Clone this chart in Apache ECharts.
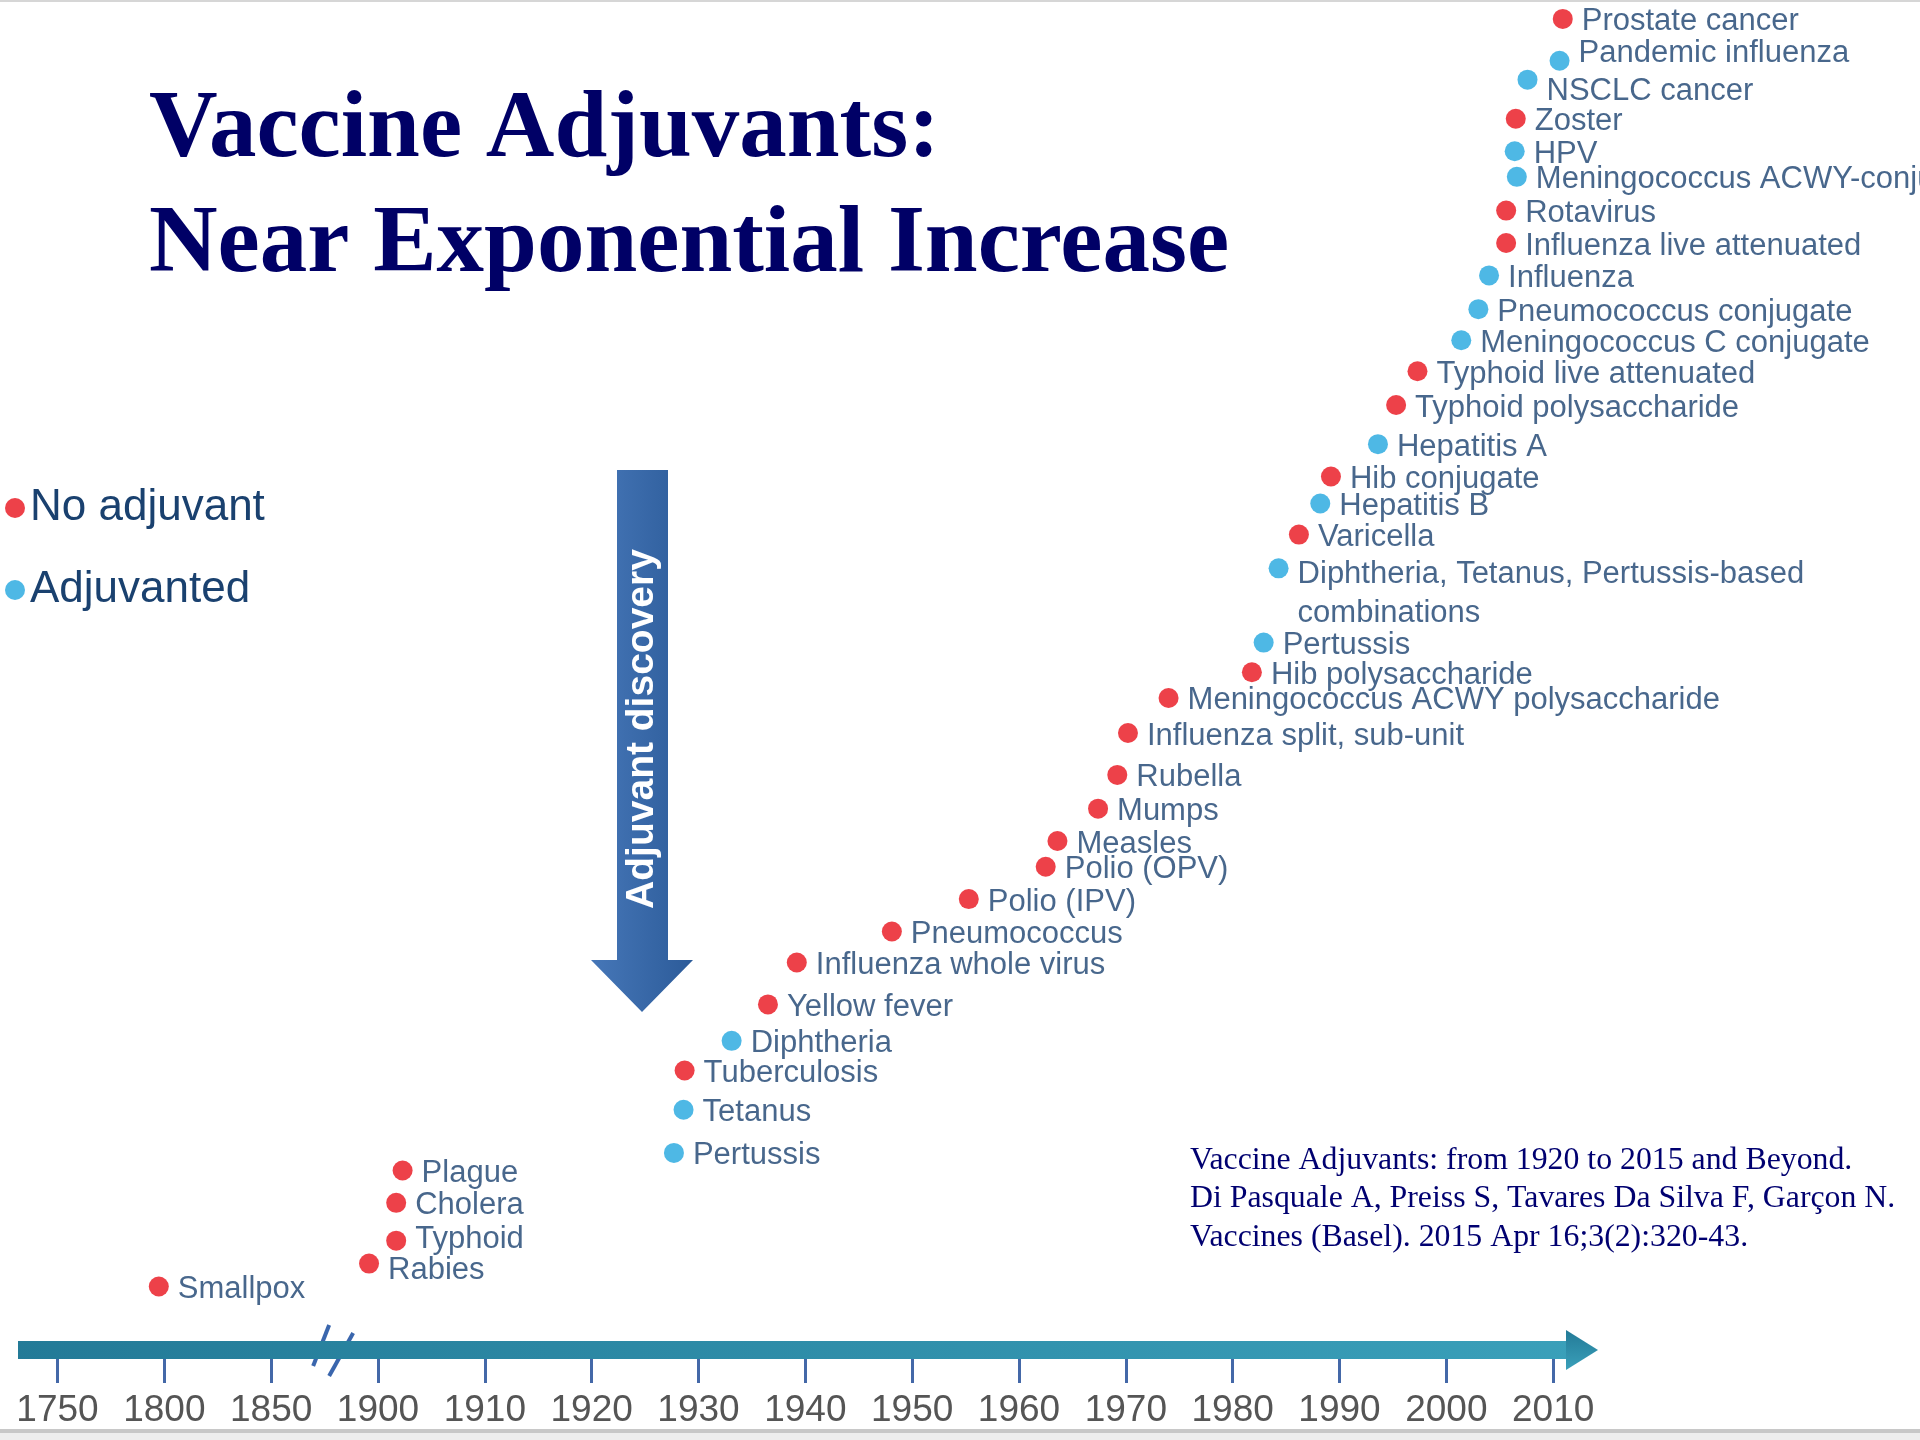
<!DOCTYPE html>
<html>
<head>
<meta charset="utf-8">
<title>Vaccine Adjuvants: Near Exponential Increase</title>
<script src="https://cdn.jsdelivr.net/npm/echarts@6/dist/echarts.min.js"></script>
<style>
  html, body { margin: 0; padding: 0; background: #fff; }
  #chart { width: 1920px; height: 1440px; }
</style>
</head>
<body>
<div id="chart"></div>
<script>
// time axis is broken: 50 year steps up to 1900, then decades
var tickLabels = ['1750', '1800', '1850', '1900', '1910', '1920', '1930', '1940', '1950',
                  '1960', '1970', '1980', '1990', '2000', '2010'];

var vaccineNames = ['Smallpox', 'Rabies', 'Typhoid', 'Cholera', 'Plague', 'Pertussis', 'Tetanus',
  'Tuberculosis', 'Diphtheria', 'Yellow fever', 'Influenza whole virus', 'Pneumococcus',
  'Polio (IPV)', 'Polio (OPV)', 'Measles', 'Mumps', 'Rubella', 'Influenza split, sub-unit',
  'Meningococcus ACWY polysaccharide', 'Hib polysaccharide', 'Pertussis',
  'Diphtheria, Tetanus, Pertussis-based\ncombinations', 'Varicella', 'Hepatitis B',
  'Hib conjugate', 'Hepatitis A', 'Typhoid polysaccharide', 'Typhoid live attenuated',
  'Meningococcus C conjugate', 'Pneumococcus conjugate', 'Influenza', 'Influenza live attenuated',
  'Rotavirus', 'Meningococcus ACWY-conjugate', 'HPV', 'Zoster', 'NSCLC cancer',
  'Pandemic influenza', 'Prostate cancer'];

var vaccineYears = [1797.4, 1895.8, 1901.7, 1901.7, 1902.3, 1927.7, 1928.6, 1928.7, 1933.1, 1936.5,
  1939.2, 1948.1, 1955.3, 1962.5, 1963.6, 1967.4, 1969.2, 1970.2, 1974.0, 1981.8, 1982.9, 1984.3,
  1986.2, 1988.2, 1989.2, 1993.6, 1995.3, 1997.3, 2001.4, 2003.0, 2004.0, 2005.6, 2005.6, 2006.6,
  2006.4, 2006.5, 2007.6, 2010.6, 2010.9];

// vertical stacking level (0 = time axis, 100 = top of the picture)
var vaccineLevels = [4.7, 6.4, 8.1, 10.9, 13.3, 14.6, 17.8, 20.7, 22.9, 25.6, 28.7, 31.0, 33.4, 35.8,
  37.7, 40.1, 42.6, 45.7, 48.3, 50.2, 52.4, 57.9, 60.4, 62.7, 64.7, 67.1, 70.0, 72.5, 74.8, 77.1,
  79.6, 82.0, 84.4, 86.9, 88.8, 91.2, 94.1, 95.5, 98.6];

// 1 = adjuvanted vaccine, 0 = no adjuvant
var adjuvanted = [0, 0, 0, 0, 0, 1, 1, 0, 1, 0, 0, 0, 0, 0, 0, 0, 0, 0, 0, 0, 1, 1, 0, 1, 0, 1, 0, 0,
  1, 1, 1, 0, 0, 1, 1, 0, 1, 1, 0];

var breakYear = 1879;   // where the "//" sits on the axis

// a few labels sit higher/lower than their dot in the original
var labelNudge = { 'Rabies': 7, 'Typhoid': -1, 'NSCLC cancer': 12, 'Pandemic influenza': -7 };

var textBlue = '#1a416f';
var sans = 'Liberation Sans, Arial, sans-serif';

function yearToPos(y) {
  return y < 1900 ? (y - 1750) / 50 : 3 + (y - 1900) / 10;
}

var noAdjData = [], adjData = [];
for (var i = 0; i < vaccineNames.length; i++) {
  var n = vaccineNames[i];
  var item = {
    name: n,
    value: [yearToPos(vaccineYears[i]), vaccineLevels[i]]
  };
  if (n.indexOf('\n') >= 0) {
    item.label = { verticalAlign: 'top', offset: [0, -13] };
  } else if (labelNudge[n] !== undefined) {
    item.label = { offset: [0, labelNudge[n]] };
  }
  if (adjuvanted[i]) adjData.push(item); else noAdjData.push(item);
}

var tickPos = tickLabels.map(function (t, i) { return i; });
var xMin = -0.37, xMax = 14.27;

var pointLabel = {
  show: true,
  position: 'right',
  distance: 9,
  offset: [0, 3],
  formatter: '{b}',
  fontFamily: sans,
  fontSize: 31,
  lineHeight: 39,
  color: textBlue
};

var chart = echarts.init(document.getElementById('chart'));

var option = {
  backgroundColor: '#fff',
  animation: false,
  title: [
    {
      text: 'Vaccine Adjuvants:\nNear Exponential Increase',
      left: 149, top: 74, padding: 0,
      textStyle: {
        fontFamily: 'Liberation Serif, Times New Roman, serif',
        fontWeight: 'bold', fontSize: 95, lineHeight: 115, color: '#000066'
      }
    },
    {
      text: 'Vaccine Adjuvants: from 1920 to 2015 and Beyond.\n' +
            'Di Pasquale A, Preiss S, Tavares Da Silva F, Garçon N.\n' +
            'Vaccines (Basel). 2015 Apr 16;3(2):320-43.',
      left: 1190, top: 1141, padding: 0,
      textStyle: {
        fontFamily: 'Liberation Serif, Times New Roman, serif',
        fontWeight: 'normal', fontSize: 31.8, lineHeight: 38.5, color: '#000070'
      }
    }
  ],
  legend: {
    orient: 'vertical',
    left: 0, top: 481,
    icon: 'circle',
    itemWidth: 20, itemHeight: 20, itemGap: 38,
    textStyle: { fontFamily: sans, fontSize: 44, color: textBlue },
    data: ['No adjuvant', 'Adjuvanted']
  },
  grid: { left: 18, right: 338, top: 0, bottom: 90 },
  xAxis: [
    {
      // the teal time arrow
      type: 'value', min: xMin, max: xMax,
      axisLine: {
        show: true,
        symbol: ['none', 'triangle'],
        symbolSize: [40, 32],
        lineStyle: {
          width: 18,
          cap: 'butt',
          color: new echarts.graphic.LinearGradient(0, 0, 1, 0, [
            { offset: 0, color: '#237a97' },
            { offset: 1, color: '#3aa0ba' }
          ])
        }
      },
      axisTick: { show: false },
      axisLabel: { show: false },
      splitLine: { show: false }
    },
    {
      // ticks and year labels under the arrow
      type: 'value', min: xMin, max: xMax,
      position: 'bottom', offset: 9,
      axisLine: { show: false },
      axisTick: {
        show: true, customValues: tickPos, length: 24,
        lineStyle: { width: 3, color: '#4468a8' }
      },
      axisLabel: {
        show: true, customValues: tickPos, margin: 33,
        formatter: function (v) { return tickLabels[Math.round(v)]; },
        fontFamily: sans, fontSize: 37, color: '#555555'
      },
      splitLine: { show: false }
    }
  ],
  yAxis: { type: 'value', min: 0, max: 100, show: false },
  series: [
    {
      name: 'No adjuvant', type: 'scatter', xAxisIndex: 0,
      symbolSize: 20, itemStyle: { color: '#e8111b' },
      label: pointLabel, data: noAdjData
    },
    {
      name: 'Adjuvanted', type: 'scatter', xAxisIndex: 0,
      symbolSize: 20, itemStyle: { color: '#22a6df' },
      label: pointLabel, data: adjData
    }
  ],
  graphic: [
    { type: 'rect', shape: { x: 0, y: 0, width: 1920, height: 2 }, style: { fill: '#d6d6d6' } },
    { type: 'rect', shape: { x: 0, y: 1429, width: 1920, height: 4 }, style: { fill: '#c8c8c8' } },
    { type: 'rect', shape: { x: 0, y: 1433, width: 1920, height: 7 }, style: { fill: '#eeeeee' } },
    {
      type: 'polygon',
      shape: { points: [[617, 470], [668, 470], [668, 960], [693, 960], [642, 1012], [591, 960], [617, 960]] },
      style: {
        fill: new echarts.graphic.LinearGradient(0, 0, 1, 0, [
          { offset: 0, color: '#4677b8' },
          { offset: 1, color: '#2c5b99' }
        ])
      }
    },
    {
      type: 'text', x: 642, y: 729, rotation: Math.PI / 2,
      style: {
        text: 'Adjuvant discovery', fill: '#ffffff',
        font: 'bold 39px Liberation Sans, Arial, sans-serif',
        align: 'center', verticalAlign: 'middle'
      }
    }
  ]
};

chart.setOption(option);

// axis break mark, placed through the axis scale
var bp = chart.convertToPixel({ xAxisIndex: 0, yAxisIndex: 0 }, [yearToPos(breakYear), 0]);
chart.setOption({
  graphic: [
    {
      type: 'line', id: 'break1',
      shape: { x1: bp[0] - 4, y1: bp[1] - 25, x2: bp[0] - 20, y2: bp[1] + 16 },
      style: { stroke: '#3a66ad', lineWidth: 4 }
    },
    {
      type: 'line', id: 'break2',
      shape: { x1: bp[0] + 20, y1: bp[1] - 17, x2: bp[0] - 4, y2: bp[1] + 26 },
      style: { stroke: '#3a66ad', lineWidth: 4 }
    }
  ]
});
</script>
</body>
</html>
